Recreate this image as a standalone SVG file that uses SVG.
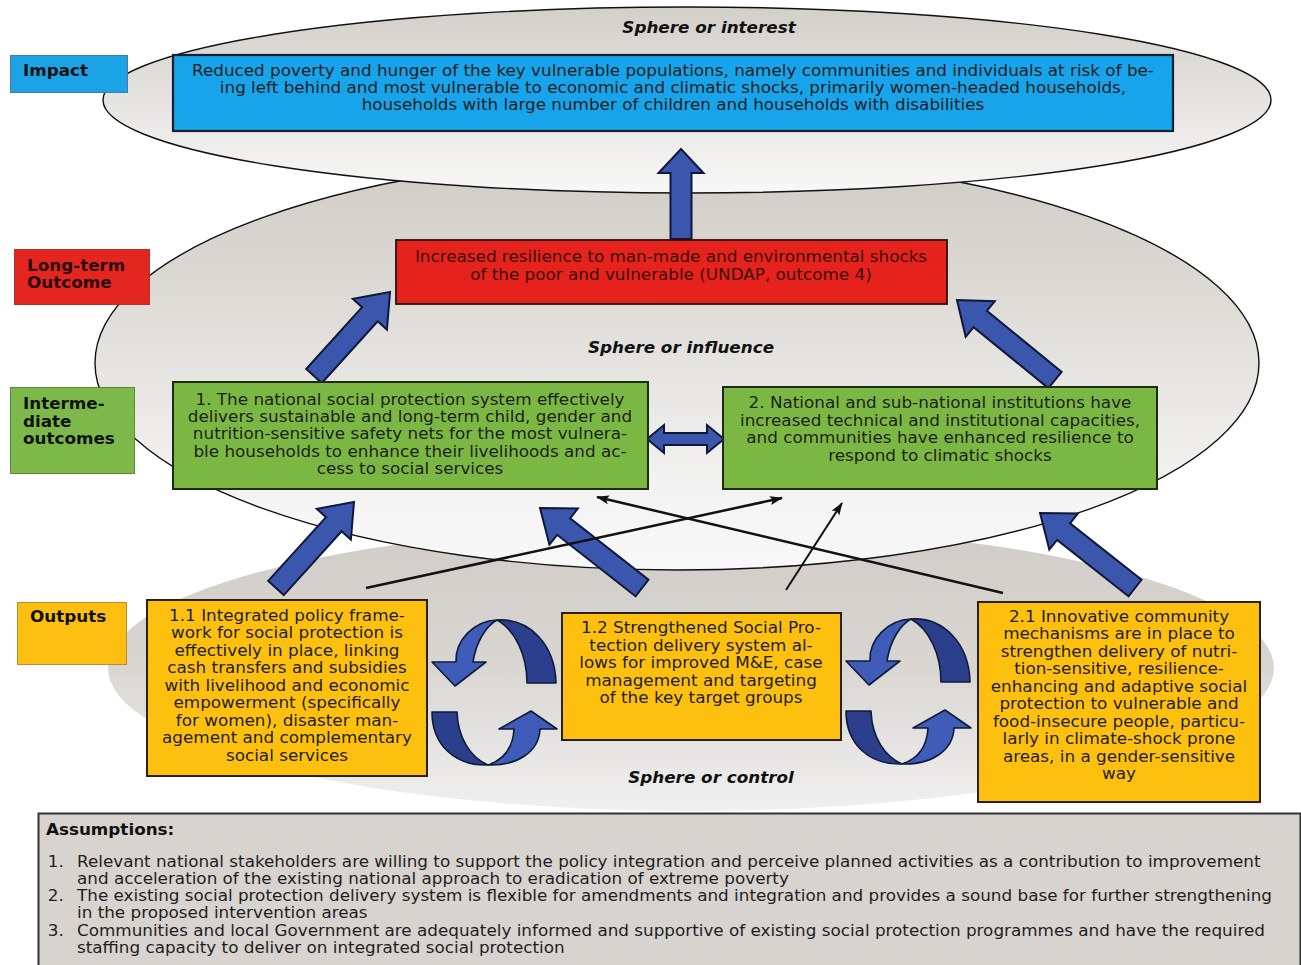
<svg xmlns="http://www.w3.org/2000/svg" width="1301" height="965" viewBox="0 0 1301 965">
<style>
text{font-family:"DejaVu Sans",Verdana,sans-serif;font-size:15px;fill:#1e1e1e}
.c{text-anchor:middle}
.lbl{font-weight:bold;fill:#111}
.sph{font-weight:bold;font-style:italic;text-anchor:middle;fill:#111}
.ell{stroke:#111;stroke-width:1.4}
.blk{fill:#3b56ad;stroke:#0f1838;stroke-width:2;stroke-linejoin:miter}
.thin{stroke:#111;fill:none}
.cfront{fill:#3f5cb8;stroke:#0d1a3a;stroke-width:1.6;stroke-linejoin:round}
.cback{fill:#2b3f8c;stroke:#0d1a3a;stroke-width:1.6;stroke-linejoin:round}
</style>
<defs>
<linearGradient id="gTop" x1="0" y1="0" x2="0" y2="1">
<stop offset="0" stop-color="#d3cfc9"/><stop offset="1" stop-color="#f8f8f8"/>
</linearGradient>
<linearGradient id="gMid" x1="0" y1="0" x2="0" y2="1">
<stop offset="0" stop-color="#cfcbc5"/><stop offset="0.3" stop-color="#dcd9d4"/><stop offset="0.85" stop-color="#f5f5f5"/><stop offset="1" stop-color="#f8f8f8"/>
</linearGradient>
<linearGradient id="gBot" x1="0" y1="0" x2="0" y2="1">
<stop offset="0" stop-color="#d0cdc9"/><stop offset="0.5" stop-color="#d9d6d2"/><stop offset="1" stop-color="#f0f0f0"/>
</linearGradient>
<marker id="ah" markerUnits="userSpaceOnUse" markerWidth="14" markerHeight="10" refX="12" refY="5" orient="auto">
<path d="M0,0.5 L13,5 L0,9.5 L2.5,5 Z" fill="#111"/>
</marker>
<g id="cyc">
<path class="cback" d="M497,620 C530,618 555,645 556,683 L527,683 C527,655 515,630 497,620 Z"/>
<path class="cfront" d="M497,620 C474,621 455,640 456,662 L432,662 L455,686 L486,662 L473,662 C476,642 486,626 497,620 Z"/>
<path class="cback" d="M432,712 L457,712 C458,740 472,758 488,765 C455,766 432,745 432,712 Z"/>
<path class="cfront" d="M488,765 C517,766 539,752 540,729 L557,729 L531,711 L499,729 L514,729 C513,748 503,760 488,765 Z"/>
</g>
</defs>

<g id="spheres">
<ellipse cx="691" cy="668" rx="583" ry="143" fill="url(#gBot)"/>
<ellipse class="ell" cx="677" cy="363" rx="582" ry="207" fill="url(#gMid)"/>
<ellipse class="ell" cx="687" cy="100" rx="584" ry="93" fill="url(#gTop)"/>
<text class="sph" x="709" y="33" transform="matrix(1.12 0 0 1 -85.08 0)">Sphere or interest</text>
<text class="sph" x="681" y="353" transform="matrix(1.12 0 0 1 -81.72 0)">Sphere or influence</text>
<text class="sph" x="711" y="783" transform="matrix(1.12 0 0 1 -85.32 0)">Sphere or control</text>
</g>

<g id="level-labels">
<g id="lbl-impact">
<rect x="10.5" y="55.5" width="117" height="37" fill="#1ba3e6" stroke="#4a7aa0"/>
<text class="lbl" x="23" y="76" transform="matrix(1.12 0 0 1 -2.76 0)">Impact</text>
</g>
<g id="lbl-longterm">
<rect x="14.5" y="249.5" width="135" height="55" fill="#e3261f" stroke="#a33"/>
<g transform="matrix(1.12 0 0 1 -3.24 0)">
<text class="lbl" x="27" y="271" style="fill:#2a0a0a">Long-term</text>
<text class="lbl" x="27" y="288" style="fill:#2a0a0a">Outcome</text>
</g>
</g>
<g id="lbl-intermediate">
<rect x="10.5" y="387.5" width="124" height="86" fill="#7cb94a" stroke="#5a8a3a"/>
<g transform="matrix(1.12 0 0 1 -2.76 0)">
<text class="lbl" x="23" y="409">Interme-</text>
<text class="lbl" x="23" y="427">diate</text>
<text class="lbl" x="23" y="444">outcomes</text>
</g>
</g>
<g id="lbl-outputs">
<rect x="17.5" y="602.5" width="109" height="62" fill="#fdbf12" stroke="#b8902a"/>
<text class="lbl" x="30" y="622" transform="matrix(1.12 0 0 1 -3.6 0)">Outputs</text>
</g>
</g>

<g id="connectors">
<path class="blk" transform="translate(681,239) rotate(-90)" d="M0,-10.5 H66 V-22.5 L90,0 L66,22.5 V10.5 H0 Z"/>
<path class="blk" transform="translate(314,376) rotate(-47.86)" d="M0,-10.5 H83.3 V-23 L113.3,0 L83.3,23 V10.5 H0 Z"/>
<path class="blk" transform="translate(1055,380) rotate(-140.8)" d="M0,-10.5 H96.5 V-23 L126.5,0 L96.5,23 V10.5 H0 Z"/>
<path class="blk" transform="translate(276,588) rotate(-47.8)" d="M0,-10.5 H86.1 V-23 L116.1,0 L86.1,23 V10.5 H0 Z"/>
<path class="blk" transform="translate(642,588) rotate(-141.9)" d="M0,-10.5 H99.6 V-23 L129.6,0 L99.6,23 V10.5 H0 Z"/>
<path class="blk" transform="translate(1135,588) rotate(-141.7)" d="M0,-10.5 H91 V-23 L121,0 L91,23 V10.5 H0 Z"/>
<path class="blk" d="M647,439 L664,425 L664,433 L707,433 L707,425 L724,439 L707,453 L707,445 L664,445 L664,453 Z"/>
<line class="thin" x1="366" y1="588" x2="782" y2="498" stroke-width="2.5" marker-end="url(#ah)"/>
<line class="thin" x1="1003" y1="593" x2="597" y2="497" stroke-width="2.5" marker-end="url(#ah)"/>
<line class="thin" x1="786" y1="590" x2="842" y2="503" stroke-width="2" marker-end="url(#ah)"/>
<use href="#cyc"/>
<use href="#cyc" transform="translate(414,-1)"/>
</g>

<g id="impact">
<rect x="173" y="55" width="1000" height="76" fill="#17a4ea" stroke="#15202e" stroke-width="2.2"/>
<g transform="matrix(1.12 0 0 1 -80.76 0)" style="fill:#1a2633">
<text class="c" x="673" y="76">Reduced poverty and hunger of the key vulnerable populations, namely communities and individuals at risk of be-</text>
<text class="c" x="673" y="93">ing left behind and most vulnerable to economic and climatic shocks, primarily women-headed households,</text>
<text class="c" x="673" y="110">households with large number of children and households with disabilities</text>
</g>
</g>

<g id="long-term">
<rect x="396" y="240" width="551" height="64" fill="#e5231c" stroke="#2a1010" stroke-width="1.8"/>
<g transform="matrix(1.12 0 0 1 -80.52 0)">
<text class="c" x="671" y="262" style="fill:#3a1008">Increased resilience to man-made and environmental shocks</text>
<text class="c" x="671" y="280" style="fill:#3a1008">of the poor and vulnerable (UNDAP, outcome 4)</text>
</g>
</g>

<g id="outcome1">
<rect x="173" y="382" width="475" height="107" fill="#7bb843" stroke="#1e2a12" stroke-width="2"/>
<g transform="matrix(1.12 0 0 1 -49.2 0)">
<text class="c" x="410" y="405">1. The national social protection system effectively</text>
<text class="c" x="410" y="422">delivers sustainable and long-term child, gender and</text>
<text class="c" x="410" y="439.5">nutrition-sensitive safety nets for the most vulnera-</text>
<text class="c" x="410" y="457">ble households to enhance their livelihoods and ac-</text>
<text class="c" x="410" y="474">cess to social services</text>
</g>
</g>

<g id="outcome2">
<rect x="723" y="387" width="434" height="102" fill="#7bb843" stroke="#1e2a12" stroke-width="2"/>
<g transform="matrix(1.12 0 0 1 -112.8 0)">
<text class="c" x="940" y="408">2. National and sub-national institutions have</text>
<text class="c" x="940" y="426">increased technical and institutional capacities,</text>
<text class="c" x="940" y="443">and communities have enhanced resilience to</text>
<text class="c" x="940" y="461">respond to climatic shocks</text>
</g>
</g>

<g id="output11">
<rect x="147" y="600" width="280" height="176" fill="#fec00f" stroke="#2a2010" stroke-width="2"/>
<g transform="matrix(1.12 0 0 1 -34.44 0)">
<text class="c" x="287" y="621">1.1 Integrated policy frame-</text>
<text class="c" x="287" y="638.5">work for social protection is</text>
<text class="c" x="287" y="656">effectively in place, linking</text>
<text class="c" x="287" y="673.5">cash transfers and subsidies</text>
<text class="c" x="287" y="691">with livelihood and economic</text>
<text class="c" x="287" y="708.5">empowerment (specifically</text>
<text class="c" x="287" y="726">for women), disaster man-</text>
<text class="c" x="287" y="743.5">agement and complementary</text>
<text class="c" x="287" y="761">social services</text>
</g>
</g>

<g id="output12">
<rect x="562" y="613" width="279" height="127" fill="#fec00f" stroke="#2a2010" stroke-width="2"/>
<g transform="matrix(1.12 0 0 1 -84.12 0)">
<text class="c" x="701" y="633">1.2 Strengthened Social Pro-</text>
<text class="c" x="701" y="651">tection delivery system al-</text>
<text class="c" x="701" y="668.5">lows for improved M&amp;E, case</text>
<text class="c" x="701" y="686">management and targeting</text>
<text class="c" x="701" y="703.5">of the key target groups</text>
</g>
</g>

<g id="output21">
<rect x="978" y="602" width="282" height="200" fill="#fec00f" stroke="#2a2010" stroke-width="2"/>
<g transform="matrix(1.12 0 0 1 -134.28 0)">
<text class="c" x="1119" y="622">2.1 Innovative community</text>
<text class="c" x="1119" y="639.5">mechanisms are in place to</text>
<text class="c" x="1119" y="657">strengthen delivery of nutri-</text>
<text class="c" x="1119" y="674.5">tion-sensitive, resilience-</text>
<text class="c" x="1119" y="692">enhancing and adaptive social</text>
<text class="c" x="1119" y="709.5">protection to vulnerable and</text>
<text class="c" x="1119" y="727">food-insecure people, particu-</text>
<text class="c" x="1119" y="744.5">larly in climate-shock prone</text>
<text class="c" x="1119" y="762">areas, in a gender-sensitive</text>
<text class="c" x="1119" y="779.5">way</text>
</g>
</g>

<g id="assumptions">
<rect x="38.5" y="813.5" width="1262" height="170" fill="#d7d3ce" stroke="#333" stroke-width="2"/>
<g transform="matrix(1.12 0 0 1 -9.24 0)">
<text class="lbl" x="49.3" y="835">Assumptions:</text>
<text x="51" y="867">1.</text>
<text x="77" y="867">Relevant national stakeholders are willing to support the policy integration and perceive planned activities as a contribution to improvement</text>
<text x="77" y="884">and acceleration of the existing national approach to eradication of extreme poverty</text>
<text x="51" y="901">2.</text>
<text x="77" y="901">The existing social protection delivery system is flexible for amendments and integration and provides a sound base for further strengthening</text>
<text x="77" y="918">in the proposed intervention areas</text>
<text x="51" y="936">3.</text>
<text x="77" y="936">Communities and local Government are adequately informed and supportive of existing social protection programmes and have the required</text>
<text x="77" y="953">staffing capacity to deliver on integrated social protection</text>
</g>
</g>
</svg>
